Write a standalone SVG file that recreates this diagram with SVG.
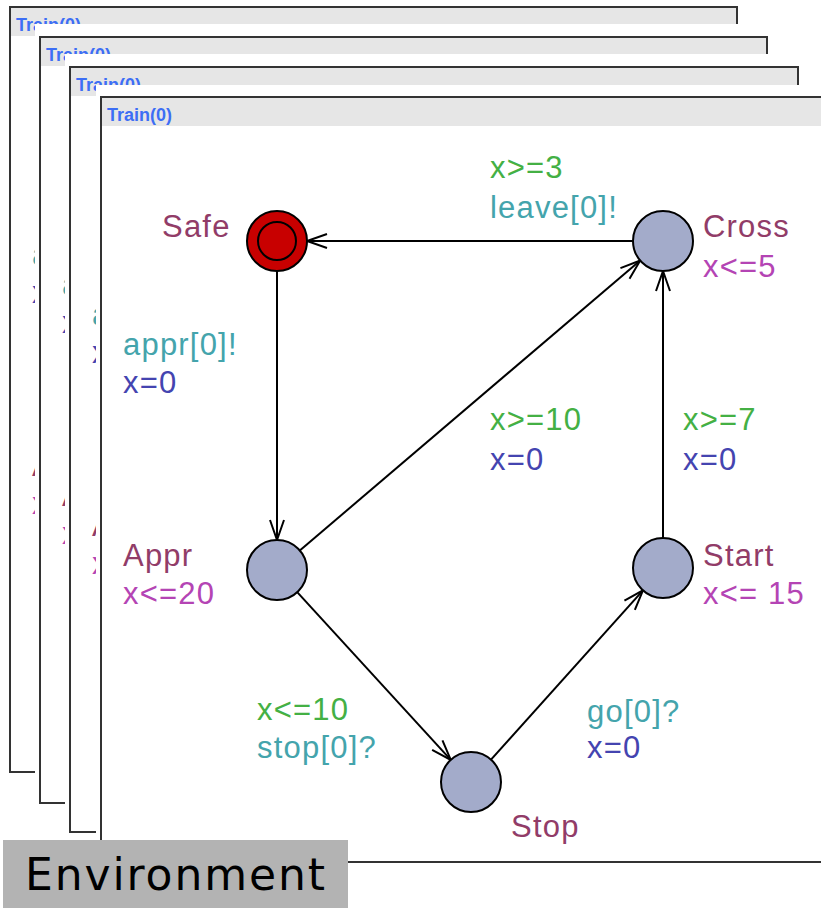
<svg xmlns="http://www.w3.org/2000/svg" xmlns:xlink="http://www.w3.org/1999/xlink" width="821" height="908" viewBox="0 0 821 908">
<style>
.frame{fill:#fff;stroke:#333;stroke-width:2}
.pad{fill:#fff}
.hdr{fill:#e6e6e6}
.title{font-family:"Liberation Sans",Arial,sans-serif;font-weight:bold;font-size:18px;fill:#3d6ef5}
.lbl{font-family:"Liberation Sans",Arial,sans-serif;font-size:31px;letter-spacing:1.2px}
.name{fill:#913c68}
.inv{fill:#b444b4}
.guard{fill:#44b044}
.sync{fill:#44a4ac}
.asg{fill:#4444b0}
.loc{fill:#a3abca;stroke:#000;stroke-width:2}
.edge{fill:none;stroke:#000;stroke-width:2;marker-end:url(#arr)}
</style>
<defs>
<marker id="arr" markerUnits="userSpaceOnUse" markerWidth="30" markerHeight="20" viewBox="-22 -10 24 20" refX="0" refY="0" orient="auto">
<path d="M-20,-7 L0,0 L-20,7" fill="none" stroke="#000" stroke-width="2"/>
</marker>
</defs>
<rect width="821" height="908" fill="#fff"/>

<g id="window1">
<rect class="frame" x="10" y="7" width="727" height="765"/>
<rect class="hdr" x="11" y="8" width="725" height="28"/>
<text class="title" x="16" y="31">Train(0)</text>
<use xlink:href="#content" href="#content" transform="translate(-91,-90)"/>
</g>
<g id="window2">
<rect class="pad" x="35" y="24" width="740" height="785"/>
<rect class="frame" x="40" y="37" width="727" height="766"/>
<rect class="hdr" x="41" y="38" width="725" height="28"/>
<text class="title" x="46" y="61">Train(0)</text>
<use xlink:href="#content" href="#content" transform="translate(-61,-60)"/>
</g>
<g id="window3">
<rect class="pad" x="65" y="54" width="740" height="785"/>
<rect class="frame" x="70" y="67" width="728" height="765"/>
<rect class="hdr" x="71" y="68" width="726" height="28"/>
<text class="title" x="76" y="91">Train(0)</text>
<use xlink:href="#content" href="#content" transform="translate(-31,-30)"/>
</g>
<g id="window4">
<rect class="pad" x="96" y="85" width="740" height="785"/>
<rect class="frame" x="101" y="97" width="727" height="765"/>
<rect class="hdr" x="102" y="98" width="725" height="28"/>
<text class="title" x="107" y="121">Train(0)</text>
</g>

<g id="content">
<g id="connectors">
<line class="edge" x1="633" y1="241" x2="307" y2="241"/>
<line class="edge" x1="277" y1="271" x2="277" y2="540"/>
<line class="edge" x1="299.8" y1="550.5" x2="640.2" y2="260.5"/>
<line class="edge" x1="297.2" y1="592.1" x2="450.8" y2="759.9"/>
<line class="edge" x1="491" y1="759.7" x2="643" y2="590.3"/>
<line class="edge" x1="663" y1="538" x2="663" y2="271"/>
<text class="lbl guard" x="490" y="178">x&gt;=3</text>
<text class="lbl sync" x="490" y="218">leave[0]!</text>
<text class="lbl sync" x="123" y="355">appr[0]!</text>
<text class="lbl asg" x="123" y="393">x=0</text>
<text class="lbl guard" x="490" y="430">x&gt;=10</text>
<text class="lbl asg" x="490" y="470">x=0</text>
<text class="lbl guard" x="683" y="430">x&gt;=7</text>
<text class="lbl asg" x="683" y="470">x=0</text>
<text class="lbl guard" x="257" y="720">x&lt;=10</text>
<text class="lbl sync" x="257" y="758">stop[0]?</text>
<text class="lbl sync" x="587" y="722">go[0]?</text>
<text class="lbl asg" x="587" y="758">x=0</text>
</g>
<g id="node-safe">
<circle cx="277" cy="241" r="30" fill="#c80000" stroke="#000" stroke-width="2"/>
<circle cx="277" cy="241" r="19" fill="none" stroke="#000" stroke-width="2"/>
<text class="lbl name" x="162" y="237">Safe</text>
</g>
<g id="node-cross">
<circle class="loc" cx="663" cy="241" r="30"/>
<text class="lbl name" x="703" y="237">Cross</text>
<text class="lbl inv" x="703" y="277">x&lt;=5</text>
</g>
<g id="node-appr">
<circle class="loc" cx="277" cy="570" r="30"/>
<text class="lbl name" x="123" y="566">Appr</text>
<text class="lbl inv" x="123" y="604">x&lt;=20</text>
</g>
<g id="node-start">
<circle class="loc" cx="663" cy="568" r="30"/>
<text class="lbl name" x="703" y="566">Start</text>
<text class="lbl inv" x="703" y="604">x&lt;= 15</text>
</g>
<g id="node-stop">
<circle class="loc" cx="471" cy="782" r="30"/>
<text class="lbl name" x="511" y="837">Stop</text>
</g>
</g>

<g id="environment">
<rect x="3" y="840" width="345" height="68" fill="#b3b3b3"/>
<text x="25" y="890" font-family="DejaVu Sans,sans-serif" font-size="44" textLength="300" lengthAdjust="spacing" fill="#000">Environment</text>
</g>
</svg>
